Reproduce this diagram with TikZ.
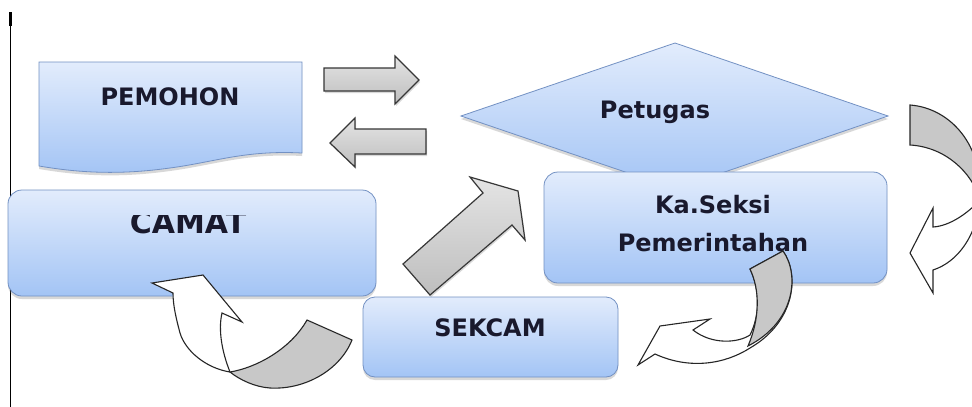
\documentclass[tikz,border=0pt]{standalone}
\usepackage{fontspec}
\setmainfont{DejaVu Sans}
\usetikzlibrary{shadows}
\definecolor{boxtop}{RGB}{226,236,252}
\definecolor{boxbot}{RGB}{163,196,245}
\definecolor{boxline}{RGB}{115,145,195}
\definecolor{txt}{RGB}{25,25,45}
\definecolor{arrtop}{RGB}{228,228,228}
\definecolor{arrbot}{RGB}{190,190,190}
\definecolor{arrline}{RGB}{55,55,55}
\definecolor{twist}{RGB}{200,200,200}
\begin{document}
\begin{tikzpicture}[x=1pt,y=-1pt,
 bluebox/.style={draw=boxline, line width=0.8pt, top color=boxtop, bottom color=boxbot,
   drop shadow={opacity=0.3,shadow xshift=0pt,shadow yshift=-3pt}},
 rbox/.style={bluebox, rounded corners=14pt, inner sep=0pt},
 lbl/.style={text=txt, font=\bfseries\fontsize{24}{38}\selectfont, align=center, inner sep=0pt},
 blockarrow/.style={draw=arrline, line width=1.2pt, top color=arrtop, bottom color=arrbot,
   line join=miter, drop shadow={opacity=0.3,shadow xshift=1pt,shadow yshift=-2pt}},
 curvedface/.style={draw=black!85, line width=1.1pt, fill=white, line join=miter},
 curvedback/.style={draw=black!85, line width=1.1pt, fill=twist, line join=miter},
]
\useasboundingbox (0,0) rectangle (972,407);
\clip (0,0) rectangle (972,407);
\fill[white] (0,0) rectangle (972,407);

% vertical line
\coordinate (vtop) at (10.5,12);
\coordinate (vmid) at (10.5,26);
\coordinate (vbot) at (10.5,407);
\draw[line width=3pt] (vtop) -- (vmid);
\draw[line width=1.4pt] (vmid) -- (vbot);

% PEMOHON document shape
\path[bluebox] (39,62) -- (302,62) -- (302,153)
  .. controls (245,150) and (215,162) .. (170,168)
  .. controls (120,175) and (80,173) .. (39,166) -- cycle;
\node[lbl] (pemohon) at (170,97) {PEMOHON};

% straight block arrows
\path[blockarrow] (324,68) -- (395,68) -- (395,56) -- (419,80) -- (395,104) -- (395,91) -- (324,91) -- cycle;
\path[blockarrow] (426,129) -- (355,129) -- (355,118) -- (330,143) -- (355,167) -- (355,154) -- (426,154) -- cycle;

% Petugas diamond
\path[bluebox] (675,43) -- (888,116) -- (675,189) -- (461,116) -- cycle;
\node[lbl] (petugas) at (655,112) {Petugas};

% Ka.Seksi box
\node[rbox, minimum width=343pt, minimum height=111pt] (kaseksi) at (715.5,227.5) {};
\node[lbl] (kaseksitext) at (713,224) {Ka.Seksi\\Pemerintahan};

% CAMAT box
\node[rbox, minimum width=368pt, minimum height=106pt] (camat) at (192,243) {};
\begin{scope}
\clip (8,215) rectangle (376,260);
\node[lbl, font=\bfseries\fontsize{30}{36}\selectfont] (camattext) at (188,223) {CAMAT};
\end{scope}

% SEKCAM box
\node[rbox, rounded corners=12pt, minimum width=255pt, minimum height=80pt] (sekcam) at (490.5,337) {};
\node[lbl] (sekcamtext) at (490,328) {SEKCAM};

% diagonal arrow SEKCAM -> Petugas
\path[blockarrow] (403,264) -- (483,193) -- (470,177) -- (518,191) -- (525,240) -- (512,225) -- (430,295) -- cycle;

% curved arrow Petugas -> Ka.Seksi (right side)
\path[curvedback] (910,105) .. controls (950,108) and (984,145) .. (980,200)
  .. controls (972,172) and (945,147) .. (910,145) -- cycle;
\path[curvedface] (980,200) .. controls (968,213) and (950,226) .. (933,227)
  -- (933,208) -- (910,253) -- (933,293) -- (933,270)
  .. controls (958,262) and (977,235) .. (980,200) -- cycle;

% curved arrow Ka.Seksi -> SEKCAM
\path[curvedface] (783,251) .. controls (800,275) and (795,322) .. (750,348)
  .. controls (725,364) and (690,370) .. (655,354)
  -- (638,365) -- (660,326) -- (710,319) -- (693,330)
  .. controls (712,345) and (738,343) .. (750,335)
  .. controls (760,315) and (760,290) .. (750,269) -- cycle;
\path[curvedback] (750,269) -- (783,251) .. controls (800,275) and (795,322) .. (748,346)
  .. controls (760,318) and (760,290) .. (750,269) -- cycle;

% curved arrow SEKCAM -> CAMAT
\path[curvedback] (230,372) .. controls (255,368) and (290,350) .. (307,320)
  -- (352,340) .. controls (340,370) and (305,390) .. (270,388)
  .. controls (255,387) and (240,380) .. (230,372) -- cycle;
\path[curvedface] (230,372) .. controls (205,368) and (185,350) .. (180,333)
  .. controls (176,318) and (173,305) .. (173,293)
  -- (152,283) -- (203,275) -- (242,322) -- (222,313)
  .. controls (218,330) and (222,352) .. (230,372) -- cycle;
\end{tikzpicture}
\end{document}
